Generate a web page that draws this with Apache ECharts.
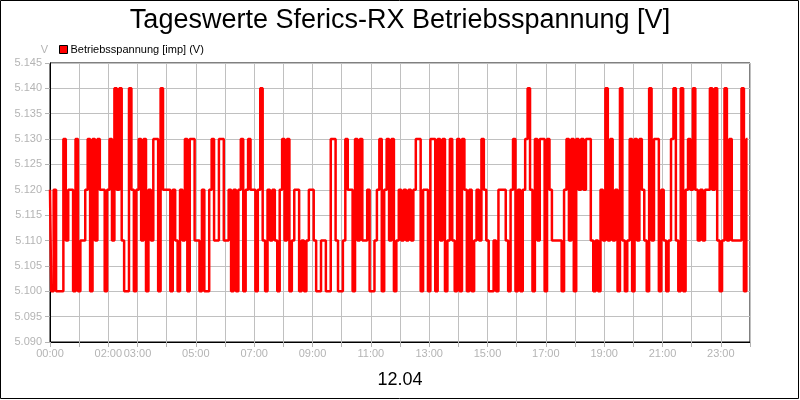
<!DOCTYPE html>
<html>
<head>
<meta charset="utf-8">
<script src="https://cdn.jsdelivr.net/npm/echarts@6/dist/echarts.min.js"></script>
<style>
  html, body { margin: 0; padding: 0; background: #fff; }
  #chart { width: 800px; height: 400px; }
</style>
</head>
<body>
<div id="chart"></div>
<script>
// readings every 5 minutes, 00:00 .. 23:55 (one row = one hour)
const stepMinutes = 5;
const voltage = [
  5.12, 5.10, 5.12, 5.10, 5.10, 5.10, 5.13, 5.11, 5.12, 5.12, 5.10, 5.13,
  5.10, 5.11, 5.11, 5.12, 5.13, 5.10, 5.13, 5.11, 5.13, 5.12, 5.12, 5.10,
  5.12, 5.13, 5.11, 5.14, 5.12, 5.14, 5.11, 5.10, 5.10, 5.14, 5.12, 5.10,
  5.12, 5.13, 5.11, 5.13, 5.10, 5.12, 5.11, 5.13, 5.13, 5.10, 5.14, 5.12,
  5.12, 5.12, 5.10, 5.12, 5.11, 5.10, 5.12, 5.11, 5.13, 5.10, 5.13, 5.13,
  5.11, 5.11, 5.10, 5.12, 5.10, 5.10, 5.12, 5.13, 5.11, 5.11, 5.13, 5.13,
  5.11, 5.11, 5.12, 5.10, 5.12, 5.10, 5.12, 5.13, 5.10, 5.12, 5.13, 5.12,
  5.12, 5.10, 5.12, 5.14, 5.11, 5.10, 5.12, 5.11, 5.12, 5.11, 5.10, 5.12,
  5.13, 5.11, 5.13, 5.10, 5.11, 5.12, 5.12, 5.10, 5.11, 5.10, 5.11, 5.12,
  5.12, 5.11, 5.10, 5.10, 5.11, 5.11, 5.10, 5.10, 5.13, 5.13, 5.11, 5.10,
  5.10, 5.11, 5.13, 5.12, 5.12, 5.10, 5.13, 5.11, 5.13, 5.11, 5.11, 5.12,
  5.10, 5.10, 5.11, 5.12, 5.13, 5.10, 5.12, 5.13, 5.11, 5.13, 5.10, 5.11,
  5.12, 5.11, 5.12, 5.11, 5.12, 5.11, 5.12, 5.13, 5.13, 5.10, 5.12, 5.12,
  5.10, 5.13, 5.13, 5.10, 5.13, 5.11, 5.13, 5.10, 5.11, 5.13, 5.11, 5.10,
  5.13, 5.10, 5.13, 5.12, 5.10, 5.12, 5.10, 5.11, 5.12, 5.11, 5.13, 5.12,
  5.11, 5.10, 5.10, 5.11, 5.10, 5.12, 5.12, 5.12, 5.11, 5.10, 5.12, 5.13,
  5.10, 5.12, 5.10, 5.12, 5.13, 5.14, 5.12, 5.10, 5.13, 5.11, 5.13, 5.13,
  5.10, 5.13, 5.12, 5.11, 5.11, 5.11, 5.11, 5.10, 5.12, 5.13, 5.11, 5.13,
  5.10, 5.13, 5.12, 5.13, 5.12, 5.13, 5.13, 5.11, 5.10, 5.11, 5.10, 5.12,
  5.11, 5.14, 5.11, 5.13, 5.11, 5.12, 5.10, 5.14, 5.11, 5.10, 5.11, 5.13,
  5.10, 5.13, 5.11, 5.13, 5.12, 5.11, 5.10, 5.14, 5.11, 5.13, 5.13, 5.10,
  5.12, 5.11, 5.10, 5.11, 5.13, 5.14, 5.11, 5.10, 5.14, 5.10, 5.12, 5.13,
  5.12, 5.14, 5.12, 5.11, 5.12, 5.11, 5.12, 5.12, 5.14, 5.12, 5.14, 5.11,
  5.10, 5.11, 5.14, 5.11, 5.13, 5.11, 5.11, 5.11, 5.11, 5.14, 5.10, 5.13
];
// hours that carry a label on the time axis
const labelHours = [0, 2, 3, 5, 7, 9, 11, 13, 15, 17, 19, 21, 23];
const seriesName = 'Betriebsspannung [imp] (V)';
const dayLabel = '12.04';

const gray = '#b4b4b4';
const font = '"Liberation Sans", Arial, sans-serif';

const myChart = echarts.init(document.getElementById('chart'), null, { renderer: 'canvas' });

const pad = (n) => (n < 10 ? '0' + n : '' + n);

const option = {
  animation: false,
  backgroundColor: '#fff',
  textStyle: { fontFamily: font },
  title: [
    {
      text: 'Tageswerte Sferics-RX Betriebsspannung [V]',
      left: 'center',
      top: 2,
      textStyle: { fontSize: 27, fontWeight: 'normal', color: '#000', fontFamily: font },
    },
    {
      text: dayLabel,
      left: 'center',
      top: 366,
      textStyle: { fontSize: 18, fontWeight: 'normal', color: '#000', fontFamily: font },
    },
  ],
  legend: {
    left: 54,
    top: 39,
    icon: 'rect',
    itemWidth: 8,
    itemHeight: 8,
    itemStyle: { borderColor: '#000', borderWidth: 1 },
    textStyle: { fontSize: 11, color: '#000', fontFamily: font, padding: [0, 0, 0, -2] },
    data: [seriesName],
  },
  grid: {
    left: 50,
    right: 50,
    top: 63,
    bottom: 58,
    show: true,
    borderColor: '#000',
    borderWidth: 1,
  },
  xAxis: {
    type: 'value',
    min: 0,
    max: 1440,
    interval: 60,
    axisLine: { lineStyle: { color: '#000' } },
    axisTick: { show: true, length: 5, lineStyle: { color: gray } },
    splitLine: { show: true, lineStyle: { color: '#c0c0c0' } },
    axisLabel: {
      color: gray,
      fontSize: 11,
      margin: 6,
      fontFamily: font,
      formatter: (v) => {
        const h = Math.round(v / 60);
        return labelHours.includes(h) && h < 24 ? pad(h) + ':00' : '';
      },
    },
  },
  yAxis: {
    type: 'value',
    min: 5.09,
    max: 5.145,
    interval: 0.005,
    name: 'V',
    nameLocation: 'end',
    nameGap: 8,
    nameTextStyle: { color: gray, fontSize: 11, align: 'right', padding: [0, 2, 0, 0] },
    axisLine: { show: true, lineStyle: { color: '#000' } },
    axisTick: { show: true, length: 5, lineStyle: { color: gray } },
    splitLine: { show: true, lineStyle: { color: '#c0c0c0' } },
    axisLabel: {
      color: gray,
      fontSize: 11,
      margin: 8,
      fontFamily: font,
      formatter: (v) => v.toFixed(3),
    },
  },
  series: [
    {
      name: seriesName,
      type: 'line',
      step: 'middle',
      showSymbol: false,
      symbol: 'none',
      sampling: null,
      color: '#ff0000',
      lineStyle: { color: '#ff0000', width: 2.5 },
      data: voltage.map((v, i) => [i * stepMinutes, v]),
    },
  ],
  graphic: [
    {
      type: 'rect',
      shape: { x: 0.5, y: 0.5, width: 798, height: 398 },
      style: { fill: null, stroke: '#000', lineWidth: 1 },
      silent: true,
      z: 100,
    },
  ],
};

myChart.setOption(option);
</script>
</body>
</html>
